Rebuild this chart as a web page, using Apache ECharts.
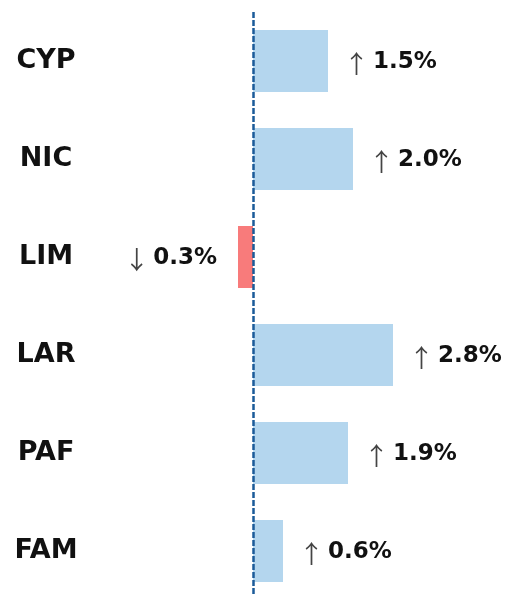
<!DOCTYPE html>
<html><head><meta charset="utf-8">
<script src="https://cdn.jsdelivr.net/npm/echarts@6/dist/echarts.min.js"></script>
<style>html,body{margin:0;padding:0;background:#fff}#c{width:515px;height:594px}</style>
</head><body><div id="c"></div>
<script>
var categories = ['CYP','NIC','LIM','LAR','PAF','FAM'];
var values = [1.5, 2.0, -0.3, 2.8, 1.9, 0.6];
var posColor = '#b4d6ee';
var negColor = '#f87b7b';

var chart = echarts.init(document.getElementById('c'), null, {renderer:'canvas'});
var data = values.map(function(v){
  return {
    value: v,
    itemStyle: {color: v < 0 ? negColor : posColor},
    label: {position: v < 0 ? 'left' : 'right', distance: v < 0 ? 21 : 16}
  };
});
chart.setOption({
  animation: false,
  grid: {left: 103, top: 12, width: 350, height: 588, outerBoundsMode: 'none', containLabel: false},
  xAxis: {type:'value', min:-3, max:4, show:false, splitLine:{show:false}},
  yAxis: {
    type:'category', data: categories, inverse: true,
    axisLine:{show:false}, axisTick:{show:false}, splitLine:{show:false},
    axisLabel:{align:'center', margin:57, fontFamily:'DejaVu Sans', fontWeight:'bold', fontSize:27, color:'#111'}
  },
  series: [{
    type:'bar', barWidth: 62, data: data,
    label: {
      show: true,
      formatter: function(p){
        var v = p.value;
        return (v < 0 ? '{a|↓}' : '{a|↑}') + '{b|' + Math.abs(v).toFixed(1) + '%}';
      },
      rich: {
        a: {fontFamily:'Noto Sans CJK SC', fontWeight:'normal', fontSize:25, color:'#444', padding:[5,0,0,0]},
        b: {fontFamily:'DejaVu Sans', fontWeight:'bold', fontSize:23, color:'#111', padding:[2,0,0,4]}
      }
    },
    markLine: {
      silent: true, symbol: 'none', label:{show:false},
      lineStyle: {color:'#1b5b99', width:2.5, type:[6,2]},
      data: [{xAxis: 0}]
    }
  }]
});
</script></body></html>
